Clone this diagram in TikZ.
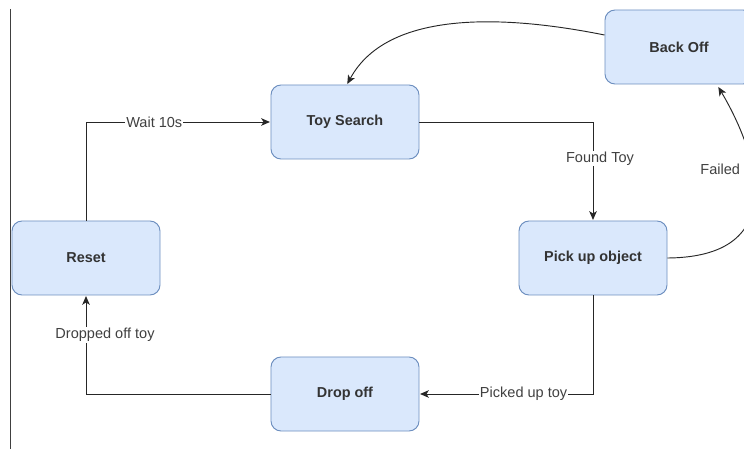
\documentclass[tikz,border=0pt]{standalone}
\usepackage{fontspec}
\setmainfont{Liberation Sans}
\usepackage{tikz}
\usetikzlibrary{arrows.meta}
\usetikzlibrary{calc}

\definecolor{boxfill}{HTML}{DAE8FC}
\definecolor{boxline}{HTML}{6C8EBF}
\definecolor{wiregray}{HTML}{262626}

\begin{document}
\begin{tikzpicture}[x=0.03cm,y=-0.03cm,->,>={Stealth[length=7.5pt,width=6.5pt,inset=2pt]},shorten >=0.5pt,line width=0.8pt,draw=wiregray,
	state node/.style={rectangle,rounded corners=0.3cm,fill=boxfill,draw=boxline,minimum width=4.44cm,minimum height=2.22cm,font=\fontsize{12.3}{14}\selectfont\bfseries,text=black!80},
	edge label/.style={fill=white,inner sep=1pt,font=\fontsize{12.4}{14}\selectfont,text=black!75}]

	\useasboundingbox (0,0) rectangle (744,455);
	\clip (0,0) rectangle (744,455);

	\draw[-,black!75] (10,9) -- (10,450);

				\node[state node] (T) at (345,122) {Toy Search};
				\node[state node] (R) at (86,258) {Reset};
				\node[state node] (P) at (593,258) {Pick up object};
				\node[state node] (D) at (345,394) {Drop off};
				\node[state node] (B) at (679,47) {Back Off};

				\draw (R.north) |- (T.west) node[edge label,pos=0.685] {Wait 10s};
				\draw (T.east) -| (P.north) node[edge label,pos=0.685,xshift=0.21cm] {Found Toy};
				\draw (P.south) |- (D.east) node[edge label,pos=0.7] {Picked up toy};
				\draw (D.west) -| (R.south) node[edge label,pos=0.8,xshift=0.57cm] {Dropped off toy};

				\draw (P.east) .. controls (800,257) and (750,140) .. ($(B.south)+(39,2)$) node[edge label,pos=0.6,xshift=-0.96cm] {Failed};
				\draw ($(B.west)+(0,-12)$) .. controls (520,18) and (390,5) .. ($(T.north)+(2,0)$);

			\end{tikzpicture}
\end{document}
